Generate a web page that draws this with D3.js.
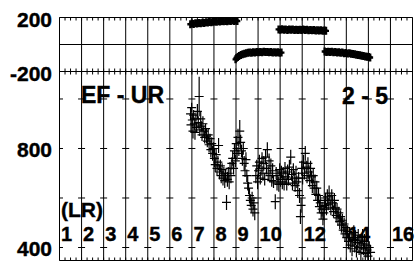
<!DOCTYPE html>
<html><head><meta charset="utf-8">
<script src="https://cdn.jsdelivr.net/npm/d3@7"></script>
<style>
body{margin:0;background:#fff}
svg{display:block}
text{font-family:"Liberation Sans",Arial,sans-serif;font-weight:bold;fill:#000}
</style>
</head><body>
<svg id="chart" width="416" height="264"></svg>
<script>
// ---------- data ----------
const periodGrid = [1,2,3,4,5,6,7,8,9,10,11,12,13,14,15,16,17];
const periodLabels = [1,2,3,4,5,6,7,8,9,10,12,14,16];
const phaseGrid = [200, 0, -200];
const phaseLabels = [200, -200];
const resTicks = [400, 600, 800, 1000];
const resLabels = [400, 800];

// upper panel (phase) points
const phasePeriod = [
 6.93,7.00,7.08,7.16,7.24,7.32,7.40,7.48,7.56,7.64,7.72,7.80,7.88,7.96,8.04,8.12,8.20,8.28,8.36,8.44,8.52,8.60,8.68,8.76,8.84,8.92,9.00,9.06,
 8.98,9.02,9.08,9.14,9.22,9.30,9.38,9.46,9.54,9.62,9.70,9.78,9.86,9.94,10.02,10.10,10.18,10.26,10.34,10.42,10.50,10.58,10.66,10.74,10.82,10.90,10.98,11.06,
 10.93,11.01,11.09,11.17,11.25,11.33,11.41,11.49,11.57,11.65,11.73,11.81,11.89,11.97,12.05,12.13,12.21,12.29,12.37,12.45,12.53,12.61,12.69,12.77,12.85,12.93,13.01,13.08,
 13.02,13.10,13.18,13.26,13.34,13.42,13.50,13.58,13.66,13.74,13.82,13.90,13.98,14.06,14.14,14.22,14.30,14.38,14.46,14.54,14.62,14.70,14.78,14.86,14.94,15.02,15.08
];
const phaseValue = [
 150,155,152,158,156,160,158,162,160,165,163,166,164,168,170,168,172,170,174,172,175,173,176,174,177,175,177,174,
 -110,-100,-92,-85,-78,-72,-68,-65,-62,-60,-62,-58,-60,-56,-58,-55,-57,-54,-56,-55,-58,-56,-59,-57,-60,-58,-61,-60,
 112,110,113,109,112,108,111,109,112,108,110,107,110,108,111,107,109,106,108,105,107,104,106,103,105,102,104,101,
 -52,-55,-53,-56,-54,-57,-56,-59,-58,-62,-60,-64,-63,-66,-65,-69,-70,-73,-75,-78,-80,-83,-85,-88,-90,-93,-96
];
const phaseError = 22;

// lower panel (apparent resistivity) points
const lrPeriod = [
 6.94,6.96,6.99,7.02,7.05,7.08,7.11,7.14,7.18,7.21,
 7.25,7.29,7.33,7.36,7.40,7.43,7.46,7.50,7.54,7.58,
 7.62,7.66,7.70,7.74,7.78,7.82,7.86,7.90,7.94,7.98,
 8.02,8.06,8.10,8.14,8.18,8.21,8.25,8.29,8.33,8.37,
 8.41,8.45,8.49,8.53,8.57,8.61,8.65,8.69,8.73,8.77,
 8.81,8.85,8.89,8.93,8.97,9.01,9.05,9.09,9.13,9.17,
 9.21,9.25,9.29,9.33,9.37,9.41,9.45,9.49,9.53,9.57,
 9.61,9.65,9.69,9.73,9.77,9.81,9.85,9.90,9.94,9.98,
 10.02,10.06,10.10,10.14,10.18,10.22,10.26,10.30,10.34,10.38,
 10.42,10.46,10.50,10.54,10.58,10.62,10.66,10.70,10.78,10.82,
 10.86,10.90,10.94,10.98,11.02,11.06,11.10,11.14,11.18,11.22,
 11.26,11.30,11.34,11.38,11.42,11.48,11.52,11.56,11.60,11.64,
 11.68,11.72,11.76,11.80,11.84,11.88,11.92,11.95,11.98,12.02,
 12.06,12.10,12.14,12.18,12.22,12.26,12.30,12.34,12.38,12.42,
 12.46,12.50,12.54,12.58,12.62,12.66,12.70,12.74,12.78,12.82,
 12.86,12.90,12.94,12.98,13.02,13.06,13.10,13.14,13.18,13.22,
 13.26,13.30,13.34,13.38,13.42,13.46,13.50,13.54,13.58,13.62,
 13.66,13.70,13.74,13.78,13.82,13.86,13.90,13.94,13.98,14.02,
 14.06,14.10,14.14,14.18,14.22,14.26,14.30,14.34,14.38,14.42,
 14.46,14.50,14.54,14.58,14.62,14.66,14.70,14.74,14.78,14.82,
 14.86,14.90,14.94,14.98,15.04,15.10
];
const lrValue = [
 940,895,965,915,870,935,900,865,920,885,
 950,905,1010,875,920,890,855,900,870,845,
 880,850,830,855,815,840,795,820,780,800,
 760,735,775,720,745,812,705,730,690,715,
 680,700,670,690,582,675,700,665,720,690,
 740,760,720,790,750,820,780,845,800,870,
 825,790,760,800,740,710,755,690,660,640,
 610,590,570,600,555,580,540,690,730,665,
 710,745,680,720,760,700,740,675,765,720,
 795,700,750,690,730,670,710,665,585,700,
 660,690,655,715,675,705,665,700,660,720,
 685,655,705,675,725,765,695,660,715,680,
 650,700,665,630,680,610,525,570,720,680,
 745,700,780,725,690,740,705,670,720,685,
 650,690,640,665,615,640,590,610,565,580,
 540,555,515,540,570,590,555,605,575,620,
 590,560,610,580,545,590,560,530,555,520,
 540,505,525,490,510,470,495,455,480,440,
 465,425,455,410,440,395,430,460,405,440,
 385,420,450,400,430,380,415,445,395,425,
 375,410,390,365,400,380
];
const lrError = [
 25,30,20,25,30,20,25,30,25,20,
 30,25,80,25,30,20,25,30,20,25,
 20,30,25,25,30,20,30,25,30,25,
 35,30,25,30,25,30,30,25,30,25,
 30,25,30,25,30,30,25,30,25,30,
 25,30,25,30,25,30,25,35,30,45,
 30,25,30,25,30,25,30,25,30,25,
 30,25,30,25,30,25,30,30,25,30,
 25,30,25,30,25,30,30,25,30,25,
 30,25,30,25,30,25,30,25,30,25,
 30,25,30,25,30,25,30,25,30,25,
 30,25,30,25,30,30,25,30,25,30,
 25,30,25,30,25,30,30,30,30,25,
 30,25,30,25,30,25,30,25,30,25,
 30,30,25,30,25,30,25,30,25,30,
 25,30,25,30,25,30,25,30,25,30,
 25,30,25,30,25,30,25,30,25,30,
 25,30,25,30,25,30,25,30,25,30,
 25,30,25,30,25,30,25,30,25,30,
 25,30,25,30,25,30,25,30,25,30,
 30,25,30,25,25,30
];

// ---------- layout ----------
const svg = d3.select("#chart");
const L = 59.5, R = 412.5, T = 17.5, MID = 71.5, B = 260.5;
const x = d3.scaleLinear().domain([1, 17]).range([L, R]);
const yTop = d3.scaleLinear().domain([-200, 200]).range([MID, T]);
const yLow = d3.scaleLinear().domain([347.5, 1111]).range([B, MID]);

const g = svg.append("g").attr("stroke", "#000").attr("stroke-width", 1).attr("fill", "none");

// vertical grid lines through both panels
g.selectAll(".vg").data(periodGrid).join("line")
  .attr("x1", d => x(d)).attr("x2", d => x(d))
  .attr("y1", T).attr("y2", B);

// horizontal grid in phase panel
g.selectAll(".hg").data(phaseGrid).join("line")
  .attr("x1", L).attr("x2", R)
  .attr("y1", d => yTop(d)).attr("y2", d => yTop(d));
// bottom border
g.append("line").attr("x1", L).attr("x2", R).attr("y1", B).attr("y2", B);

// minor x ticks (quarter steps)
const minor = d3.range(1, 17.001, 0.25);
g.selectAll(".mt").data(minor).join("line")
  .attr("x1", d => x(d)).attr("x2", d => x(d)).attr("y1", T).attr("y2", T + 3);
g.selectAll(".mm").data(minor).join("line")
  .attr("x1", d => x(d)).attr("x2", d => x(d)).attr("y1", MID - 3).attr("y2", MID + 3);
g.selectAll(".mb").data(minor).join("line")
  .attr("x1", d => x(d)).attr("x2", d => x(d)).attr("y1", B - 3).attr("y2", B);

// resistivity y ticks as crosses on each vertical gridline
const crossData = [];
resTicks.forEach(r => periodGrid.forEach(p => crossData.push([p, r])));
g.selectAll(".yc").data(crossData).join("line")
  .attr("x1", d => Math.max(L, x(d[0]) - 3.5)).attr("x2", d => Math.min(R, x(d[0]) + 3.5))
  .attr("y1", d => yLow(d[1])).attr("y2", d => yLow(d[1]));

// ---------- texts ----------
const txt = svg.append("g").attr("stroke", "#000").attr("stroke-width", 0.4);
txt.selectAll(".pl").data(phaseLabels).join("text")
  .attr("x", 52).attr("y", d => yTop(d) + 9.5)
  .attr("text-anchor", "end").attr("font-size", 21).text(d => d);
txt.selectAll(".rl").data(resLabels).join("text")
  .attr("x", 52).attr("y", d => yLow(d) + 8.5)
  .attr("text-anchor", "end").attr("font-size", 21).text(d => d);
txt.selectAll(".xl").data(periodLabels).join("text")
  .attr("x", d => x(d) + 1.5).attr("y", 241)
  .attr("font-size", 20).text(d => d);
txt.append("text").attr("x", 61).attr("y", 217).attr("font-size", 21).text("(LR)");
txt.append("text").attr("x", 81).attr("y", 103).attr("font-size", 23).text("EF - UR");
txt.append("text").attr("x", 342).attr("y", 104).attr("font-size", 23).text("2 - 5");

// ---------- data marks ----------
const defs = svg.append("defs");
defs.append("clipPath").attr("id", "clipTop").append("rect")
  .attr("x", L).attr("y", T).attr("width", R - L).attr("height", MID - T);
defs.append("clipPath").attr("id", "clipLow").append("rect")
  .attr("x", L).attr("y", MID).attr("width", R - L).attr("height", B - MID);

function marker(px, py, ey, hw) {
  const e = Math.max(ey, 4);
  return `M${px - hw},${py}H${px + hw}M${px},${py - e}V${py + e}`;
}

const nTop = Math.min(phasePeriod.length, phaseValue.length);
const topPts = d3.range(nTop).map(i => [phasePeriod[i], phaseValue[i]]);
svg.append("g").attr("clip-path", "url(#clipTop)")
  .attr("stroke", "#000").attr("stroke-width", 2.4).attr("fill", "none")
  .selectAll("path").data(topPts).join("path")
  .attr("d", d => marker(x(d[0]), yTop(d[1]), Math.abs(yTop(d[1] + phaseError) - yTop(d[1])), 3));

const nLow = Math.min(lrPeriod.length, lrValue.length, lrError.length);
const lowPts = d3.range(nLow).map(i => [lrPeriod[i], lrValue[i], lrError[i]]);
svg.append("g").attr("clip-path", "url(#clipLow)")
  .attr("stroke", "#000").attr("stroke-width", 1.2).attr("fill", "none")
  .selectAll("path").data(lowPts).join("path")
  .attr("d", d => marker(x(d[0]), yLow(d[1]), Math.abs(yLow(d[1] + d[2]) - yLow(d[1])), 4.5));
</script>
</body></html>
